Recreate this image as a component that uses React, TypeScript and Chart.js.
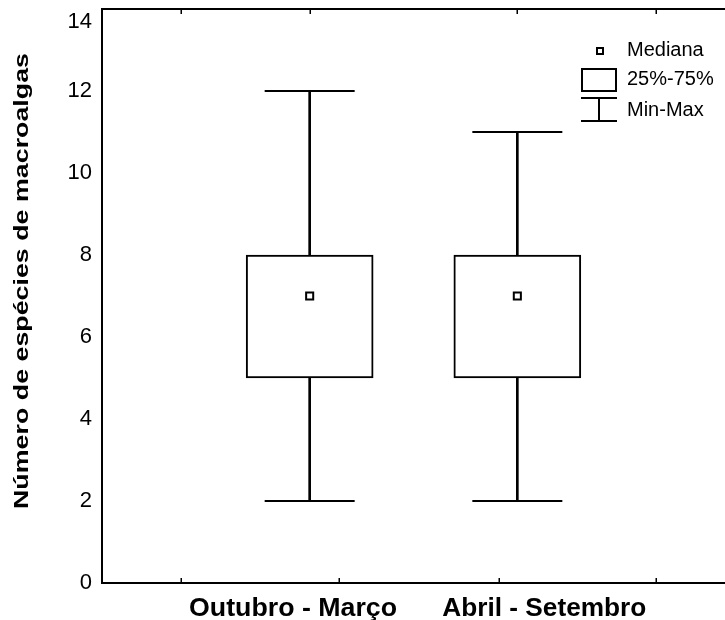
import React, { useEffect, useRef } from 'react';
import { Chart, registerables } from 'chart.js';

Chart.register(...registerables);

// ---- data ----
const categories = ['Outubro - Março', 'Abril - Setembro'];
const categoryX = [1, 2];
const minValues = [2, 2];
const q1Values = [5, 5];
const medianValues = [7, 7];
const q3Values = [8, 8];
const maxValues = [12, 11];

// ---- axis ticks / labels ----
const yTickValues = [0, 2, 4, 6, 8, 10, 12, 14];
const bottomTickValues = [0.38, 1.14, 1.91, 2.67];
const topTickValues = [0.38, 1, 2, 2.67];
const categoryLabelX = [0.92, 2.13];
const yTitle = 'Número de espécies de macroalgas';
const legendLabels = ['Mediana', '25%-75%', 'Min-Max'];

const FONT = "'Liberation Sans', Arial, Helvetica, sans-serif";

const drawStretched = (
  ctx: CanvasRenderingContext2D,
  text: string,
  targetWidth: number
) => {
  const w = ctx.measureText(text).width;
  const k = targetWidth / w;
  ctx.scale(k, 1);
  ctx.fillText(text, 0, 0);
};

const decorPlugin = {
  id: 'decor',
  afterDraw(chart: any) {
    const ctx: CanvasRenderingContext2D = chart.ctx;
    const xs = chart.scales.x;
    const xt = chart.scales.xTop;
    const area = chart.chartArea;
    ctx.save();
    ctx.strokeStyle = '#000';
    ctx.fillStyle = '#000';

    // inward tick marks on bottom and top axes
    ctx.lineWidth = 1.5;
    ctx.beginPath();
    xs.ticks.forEach((t: any) => {
      const px = Math.round(xs.getPixelForValue(t.value)) + 0.25;
      ctx.moveTo(px, area.bottom);
      ctx.lineTo(px, area.bottom - 5);
    });
    xt.ticks.forEach((t: any) => {
      const px = Math.round(xt.getPixelForValue(t.value)) + 0.25;
      ctx.moveTo(px, area.top);
      ctx.lineTo(px, area.top + 5);
    });
    ctx.stroke();

    // y axis title (rotated)
    ctx.save();
    ctx.font = `bold 21px ${FONT}`;
    ctx.textAlign = 'center';
    ctx.textBaseline = 'alphabetic';
    ctx.translate(28, 281);
    ctx.rotate(-Math.PI / 2);
    drawStretched(ctx, yTitle, 456);
    ctx.restore();

    // category labels
    const labelWidths = [208, 204];
    categories.forEach((c, i) => {
      ctx.save();
      ctx.font = `bold 25px ${FONT}`;
      ctx.textAlign = 'center';
      ctx.textBaseline = 'alphabetic';
      ctx.translate(xs.getPixelForValue(categoryLabelX[i]), 616);
      drawStretched(ctx, c, labelWidths[i]);
      ctx.restore();
    });

    // legend
    ctx.lineWidth = 2;
    ctx.fillStyle = '#fff';
    ctx.fillRect(597, 48, 6, 6);
    ctx.strokeRect(597, 48, 6, 6);
    ctx.strokeRect(582, 69, 34, 22);
    ctx.beginPath();
    ctx.moveTo(581, 98);
    ctx.lineTo(617, 98);
    ctx.moveTo(599, 98);
    ctx.lineTo(599, 121);
    ctx.moveTo(581, 121);
    ctx.lineTo(617, 121);
    ctx.stroke();

    ctx.fillStyle = '#000';
    ctx.font = `20px ${FONT}`;
    ctx.textAlign = 'left';
    ctx.textBaseline = 'middle';
    const ly = [50.5, 79, 110];
    legendLabels.forEach((l, i) => ctx.fillText(l, 627, ly[i]));

    ctx.restore();
  },
};

export default function App() {
  const canvasRef = useRef<HTMLCanvasElement | null>(null);

  useEffect(() => {
    if (!canvasRef.current) return;
    const yMax = yTickValues[yTickValues.length - 1];
    const chart = new Chart(canvasRef.current, {
      type: 'bar',
      data: {
        datasets: [
          {
            type: 'scatter',
            label: 'Mediana',
            data: categoryX.map((x, i) => ({ x, y: medianValues[i] })),
            pointStyle: 'rect',
            pointRadius: 5,
            borderColor: '#000',
            backgroundColor: '#fff',
            borderWidth: 2,
            order: 0,
          } as any,
          {
            type: 'bar',
            label: '25%-75%',
            data: categoryX.map((x, i) => ({ x, y: [q1Values[i], q3Values[i]] })),
            backgroundColor: '#fff',
            borderColor: '#000',
            borderWidth: 2,
            borderSkipped: false,
            grouped: false,
            barPercentage: 1,
            categoryPercentage: 1,
            maxBarThickness: 127,
            order: 1,
          } as any,
          {
            type: 'bar',
            label: 'stem',
            data: categoryX.map((x, i) => ({ x, y: [minValues[i], maxValues[i]] })),
            backgroundColor: '#000',
            borderWidth: 0,
            grouped: false,
            barPercentage: 1,
            categoryPercentage: 1,
            maxBarThickness: 2,
            order: 2,
          } as any,
          {
            type: 'scatter',
            label: 'Min-Max',
            data: [
              ...categoryX.map((x, i) => ({ x, y: minValues[i] })),
              ...categoryX.map((x, i) => ({ x, y: maxValues[i] })),
            ],
            pointStyle: 'line',
            pointRadius: 45,
            borderColor: '#000',
            borderWidth: 2,
            order: 3,
          } as any,
        ],
      },
      options: {
        animation: false,
        responsive: false,
        devicePixelRatio: 1,
        layout: { autoPadding: false, padding: { top: 9, left: 0, right: 0, bottom: 0 } },
        plugins: {
          legend: { display: false },
          tooltip: { enabled: false },
          title: { display: false },
        },
        scales: {
          x: {
            type: 'linear',
            position: 'bottom',
            offset: false,
            min: 0,
            max: 3,
            afterBuildTicks: (s: any) => {
              s.ticks = bottomTickValues.map((v) => ({ value: v }));
            },
            ticks: { display: false },
            grid: { display: false, drawTicks: false, offset: false },
            border: { display: true, color: '#000', width: 2 },
            afterFit: (s: any) => {
              s.height = 37;
              s.paddingLeft = 0;
              s.paddingRight = 0;
            },
          },
          xTop: {
            type: 'linear',
            position: 'top',
            offset: false,
            min: 0,
            max: 3,
            afterBuildTicks: (s: any) => {
              s.ticks = topTickValues.map((v) => ({ value: v }));
            },
            ticks: { display: false },
            grid: { display: false, drawTicks: false, offset: false },
            border: { display: true, color: '#000', width: 2 },
            afterFit: (s: any) => {
              s.height = 0;
              s.paddingLeft = 0;
              s.paddingRight = 0;
            },
          },
          y: {
            type: 'linear',
            min: 0,
            max: yMax,
            afterBuildTicks: (s: any) => {
              s.ticks = yTickValues.map((v) => ({ value: v }));
            },
            ticks: {
              color: '#000',
              font: { family: FONT, size: 22 },
              padding: 10,
              // top label is pushed down inside the canvas, as in the original
              callback: (v: any) => (v === yMax ? ['', String(v)] : String(v)),
            },
            grid: { display: false, drawTicks: false },
            border: { display: true, color: '#000', width: 2 },
            afterFit: (s: any) => {
              s.width = 102;
              s.paddingTop = 0;
              s.paddingBottom = 0;
            },
          },
        },
      } as any,
      plugins: [decorPlugin],
    });
    return () => chart.destroy();
  }, []);

  return (
    <div style={{ position: 'absolute', left: 0, top: 0, width: 725, height: 620, background: '#fff' }}>
      <canvas ref={canvasRef} width={725} height={620} style={{ display: 'block', width: 725, height: 620 }} />
    </div>
  );
}
